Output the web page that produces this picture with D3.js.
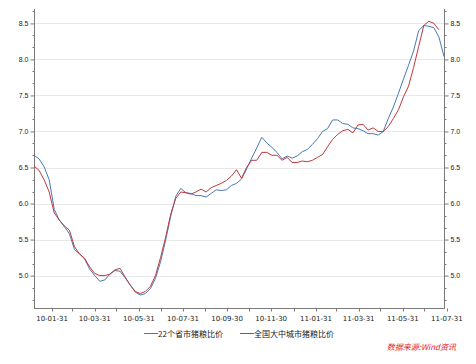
<!DOCTYPE html>
<html>
<head>
<meta charset="utf-8">
<script src="https://cdn.jsdelivr.net/npm/d3@7"></script>
<style>
  body { margin: 0; background: #fff; }
  svg { display: block; }
</style>
</head>
<body>
<div id="chart"></div>
<script>
// weekly observation dates
const dates = [
  '2010-01-06','2010-01-13','2010-01-20','2010-01-27','2010-02-03','2010-02-10','2010-02-17','2010-02-24',
  '2010-03-03','2010-03-10','2010-03-17','2010-03-24','2010-03-31','2010-04-07','2010-04-14','2010-04-21',
  '2010-04-28','2010-05-05','2010-05-12','2010-05-19','2010-05-26','2010-06-02','2010-06-09','2010-06-16',
  '2010-06-23','2010-06-30','2010-07-07','2010-07-14','2010-07-21','2010-07-28','2010-08-04','2010-08-11',
  '2010-08-18','2010-08-25','2010-09-01','2010-09-08','2010-09-15','2010-09-22','2010-09-29','2010-10-06',
  '2010-10-13','2010-10-20','2010-10-27','2010-11-03','2010-11-10','2010-11-17','2010-11-24','2010-12-01',
  '2010-12-08','2010-12-15','2010-12-22','2010-12-29','2011-01-05','2011-01-12','2011-01-19','2011-01-26',
  '2011-02-02','2011-02-09','2011-02-16','2011-02-23','2011-03-02','2011-03-09','2011-03-16','2011-03-23',
  '2011-03-30','2011-04-06','2011-04-13','2011-04-20','2011-04-27','2011-05-04','2011-05-11','2011-05-18',
  '2011-05-25','2011-06-01','2011-06-08','2011-06-15','2011-06-22','2011-06-29','2011-07-06','2011-07-13',
  '2011-07-20','2011-07-27'
];

// 22个省市猪粮比价
const province22 = [
  6.67, 6.62, 6.51, 6.33, 5.92, 5.77, 5.68, 5.58, 5.36, 5.30,
  5.23, 5.09, 5.00, 4.92, 4.94, 5.02, 5.07, 5.06, 4.97, 4.87,
  4.77, 4.73, 4.75, 4.82, 4.96, 5.19, 5.49, 5.82, 6.10, 6.21,
  6.15, 6.14, 6.11, 6.11, 6.09, 6.14, 6.19, 6.18, 6.19, 6.25,
  6.28, 6.34, 6.48, 6.63, 6.77, 6.92, 6.84, 6.78, 6.71, 6.62,
  6.66, 6.63, 6.66, 6.72, 6.75, 6.82, 6.90, 7.00, 7.04, 7.16,
  7.16, 7.11, 7.10, 7.05, 7.04, 7.01, 6.97, 6.97, 6.95, 7.00,
  7.18, 7.34, 7.53, 7.73, 7.92, 8.12, 8.40, 8.47, 8.46, 8.44,
  8.31, 8.04
];

// 全国大中城市猪粮比价
const nationalCities = [
  6.52, 6.46, 6.33, 6.16, 5.87, 5.77, 5.69, 5.63, 5.40, 5.30,
  5.24, 5.12, 5.03, 5.00, 5.00, 5.02, 5.08, 5.10, 4.98, 4.87,
  4.78, 4.75, 4.78, 4.85, 5.00, 5.25, 5.53, 5.85, 6.07, 6.16,
  6.15, 6.13, 6.16, 6.20, 6.16, 6.22, 6.25, 6.28, 6.32, 6.38,
  6.47, 6.35, 6.50, 6.60, 6.60, 6.71, 6.71, 6.67, 6.67, 6.60,
  6.64, 6.57, 6.57, 6.59, 6.58, 6.60, 6.64, 6.68, 6.79, 6.89,
  6.96, 7.01, 7.03, 6.98, 7.09, 7.10, 7.02, 7.05, 7.00, 7.00,
  7.07, 7.18, 7.30, 7.48, 7.63, 7.89, 8.18, 8.47, 8.53, 8.50,
  8.41, null
];

const seriesNames = ['22个省市猪粮比价', '全国大中城市猪粮比价'];
const xTickLabels = ['10-01-31','10-03-31','10-05-31','10-07-31','10-09-30','10-11-30','11-01-31','11-03-31','11-05-31','11-07-31'];
const yTickLabels = ['5.0','5.5','6.0','6.5','7.0','7.5','8.0','8.5'];
const source = '数据来源:Wind资讯';

const width = 476;
const height = 364;
const plotLeft = 34, plotRight = 444, plotTop = 9, plotBottom = 308;
const blue = '#4a78b4';
const red = '#c0393b';
const axisColor = '#7a7a7a';

const parse = d3.timeParse('%Y-%m-%d');
const parseTick = d3.timeParse('%y-%m-%d');
const dateValues = dates.map(parse);

const svg = d3.select('#chart')
  .append('svg')
  .attr('width', width)
  .attr('height', height)
  .style('font-family', 'DejaVu Sans, sans-serif');

const x = d3.scaleTime()
  .domain([dateValues[0], dateValues[dateValues.length - 1]])
  .range([plotLeft, plotRight]);

const y = d3.scaleLinear()
  .domain([4.55, 8.70])
  .range([plotBottom, plotTop]);

const yMajor = yTickLabels.map(Number);
const yMinor = d3.range(4.5, 8.75, 0.5 / 3)
  .filter((v) => v >= 4.55 && v <= 8.70)
  .filter((v) => !yMajor.some((m) => Math.abs(m - v) < 0.01));

// grid
svg.append('g')
  .selectAll('line')
  .data(yMajor)
  .join('line')
  .attr('x1', plotLeft)
  .attr('x2', plotRight)
  .attr('y1', (d) => Math.round(y(d)) + 0.5)
  .attr('y2', (d) => Math.round(y(d)) + 0.5)
  .attr('stroke', '#e8e8e8')
  .attr('stroke-width', 1);

// left and right y axes
const yAxisL = svg.append('g').attr('transform', `translate(${plotLeft + 0.5},0)`)
  .call(d3.axisLeft(y).tickValues(yMajor).tickFormat(d3.format('.1f')).tickSize(4).tickPadding(2));
const yAxisR = svg.append('g').attr('transform', `translate(${plotRight + 0.5},0)`)
  .call(d3.axisRight(y).tickValues(yMajor).tickFormat(d3.format('.1f')).tickSize(4).tickPadding(2));

[yAxisL, yAxisR].forEach((g) => {
  g.select('.domain').remove();
  g.append('line')
    .attr('y1', plotTop).attr('y2', plotBottom + 1)
    .attr('stroke', axisColor);
  g.selectAll('.tick line').attr('stroke', axisColor);
  g.selectAll('.tick text').attr('font-size', 7).attr('fill', '#222');
});

yAxisL.selectAll('.minor')
  .data(yMinor)
  .join('line')
  .attr('class', 'minor')
  .attr('x1', -2).attr('x2', 0)
  .attr('y1', (d) => Math.round(y(d)) + 0.5)
  .attr('y2', (d) => Math.round(y(d)) + 0.5)
  .attr('stroke', axisColor);

yAxisR.selectAll('.minor')
  .data(yMinor)
  .join('line')
  .attr('class', 'minor')
  .attr('x1', 0).attr('x2', 2)
  .attr('y1', (d) => Math.round(y(d)) + 0.5)
  .attr('y2', (d) => Math.round(y(d)) + 0.5)
  .attr('stroke', axisColor);

// x axis: tick at every month end, labels every two months
const monthEnds = d3.timeMonth.range(new Date(2010, 1, 1), new Date(2011, 7, 2))
  .map((d) => d3.timeDay.offset(d, -1));
const labelDates = xTickLabels.map(parseTick);
const fmt = d3.timeFormat('%y-%m-%d');

const xAxis = svg.append('g').attr('transform', `translate(0,${plotBottom + 0.5})`);
xAxis.append('line')
  .attr('x1', plotLeft).attr('x2', plotRight + 1)
  .attr('stroke', axisColor);
xAxis.selectAll('.tk')
  .data(monthEnds)
  .join('line')
  .attr('class', 'tk')
  .attr('x1', (d) => Math.round(x(d)) + 0.5)
  .attr('x2', (d) => Math.round(x(d)) + 0.5)
  .attr('y1', 0).attr('y2', 3)
  .attr('stroke', axisColor);
xAxis.selectAll('text')
  .data(labelDates)
  .join('text')
  .attr('x', (d) => x(d))
  .attr('y', 12)
  .attr('text-anchor', 'middle')
  .attr('font-size', 7)
  .attr('fill', '#222')
  .text((d) => fmt(d));

// lines
const line = d3.line()
  .defined((d) => d[1] != null)
  .x((d) => x(d[0]))
  .y((d) => y(d[1]));

[[province22, blue], [nationalCities, red]].forEach(([vals, color]) => {
  svg.append('path')
    .datum(dateValues.map((d, i) => [d, vals[i]]))
    .attr('fill', 'none')
    .attr('stroke', color)
    .attr('stroke-width', 1)
    .attr('stroke-linejoin', 'round')
    .attr('d', line);
});

// legend
const legend = svg.append('g').attr('font-family', 'Noto Sans CJK SC, sans-serif');
const legendItems = [
  { name: seriesNames[0], color: blue, x: 144 },
  { name: seriesNames[1], color: red, x: 240 }
];
legendItems.forEach((it) => {
  legend.append('line')
    .attr('x1', it.x).attr('x2', it.x + 14)
    .attr('y1', 333.5).attr('y2', 333.5)
    .attr('stroke', it.color)
    .attr('stroke-width', 1);
  legend.append('text')
    .attr('x', it.x + 14)
    .attr('y', 336.5)
    .attr('font-size', 8)
    .attr('fill', '#222')
    .text(it.name);
});

svg.append('text')
  .attr('x', 456)
  .attr('y', 350)
  .attr('text-anchor', 'end')
  .attr('font-family', 'Noto Sans CJK SC, sans-serif')
  .attr('font-size', 8)
  .attr('font-style', 'italic')
  .attr('fill', '#e8231a')
  .text(source);
</script>
</body>
</html>
